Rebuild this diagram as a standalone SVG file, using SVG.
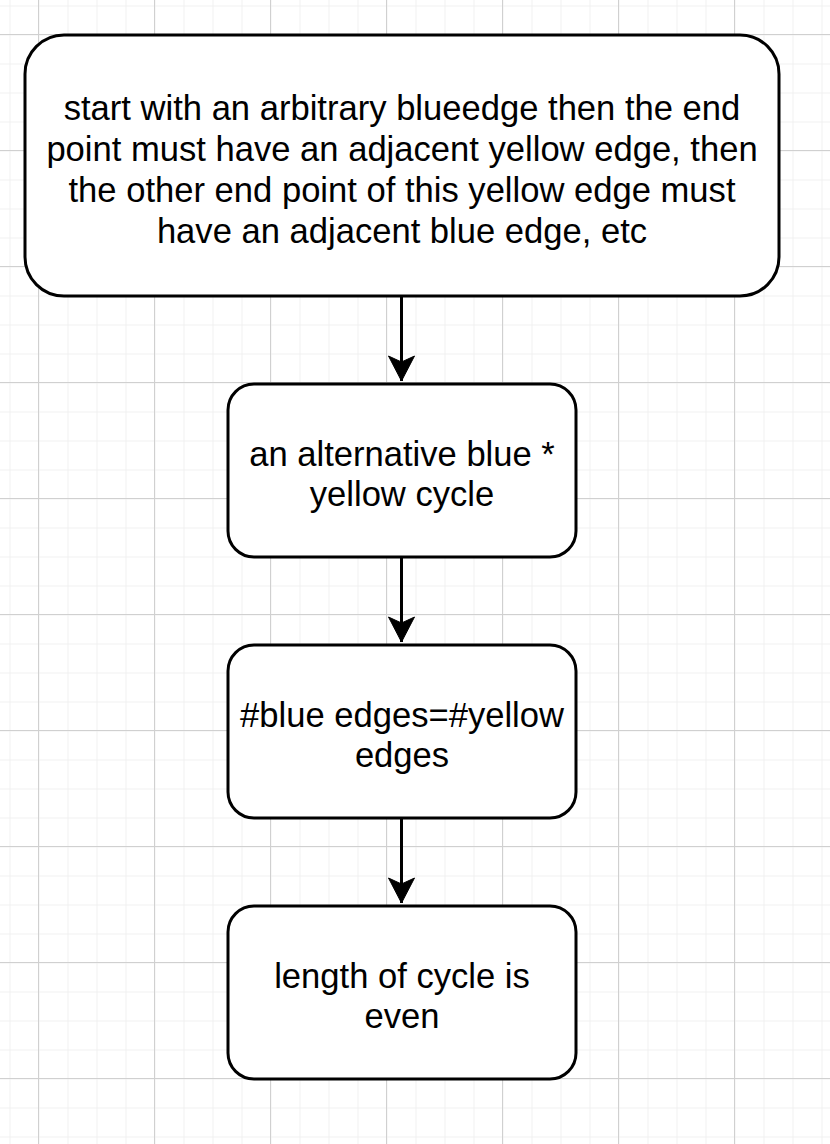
<svg xmlns="http://www.w3.org/2000/svg" width="830" height="1144" viewBox="0 0 830 1144">
<defs>
<pattern id="minor" x="9.5" y="5.5" width="29" height="29" patternUnits="userSpaceOnUse">
<path d="M0 0.5 H29 M0.5 0 V29" fill="none" stroke="#f0f0f0" stroke-width="1"/>
</pattern>
<pattern id="major" x="38" y="34" width="116" height="116" patternUnits="userSpaceOnUse">
<path d="M0 0.5 H116 M0.5 0 V116" fill="none" stroke="#d0d0d0" stroke-width="1"/>
</pattern>
<marker id="arrow" markerWidth="28" markerHeight="28" viewBox="0 0 28 28" refX="26" refY="14" orient="auto" markerUnits="userSpaceOnUse">
<path d="M26 14 L1 1 L7 14 L1 27 Z" fill="#000" stroke="#000" stroke-width="1"/>
</marker>
<style>
.box{fill:#fff;stroke:#000;stroke-width:3}
.lbl{font-family:"Liberation Sans",Arial,sans-serif;font-size:34.6px;fill:#000;text-anchor:middle}
.edge{stroke:#000;stroke-width:3;fill:none}
</style>
</defs>
<rect width="830" height="1144" fill="#fff"/>
<rect width="830" height="1144" fill="url(#minor)"/>
<rect width="830" height="1144" fill="url(#major)"/>
<g id="connectors">
<path class="edge" d="M401.5 296 V381" marker-end="url(#arrow)"/>
<path class="edge" d="M401.5 557 V642" marker-end="url(#arrow)"/>
<path class="edge" d="M401.5 818 V903" marker-end="url(#arrow)"/>
</g>
<g id="node1">
<rect class="box" x="25" y="35" width="754" height="261" rx="39" ry="39"/>
<text class="lbl" x="402" y="120">start with an arbitrary blueedge then the end</text>
<text class="lbl" x="402" y="161">point must have an adjacent yellow edge, then</text>
<text class="lbl" x="402" y="202">the other end point of this yellow edge must</text>
<text class="lbl" x="402" y="243">have an adjacent blue edge, etc</text>
</g>
<g id="node2">
<rect class="box" x="228" y="384" width="348" height="173" rx="26" ry="26"/>
<text class="lbl" x="402" y="466">an alternative blue *</text>
<text class="lbl" x="402" y="506">yellow cycle</text>
</g>
<g id="node3">
<rect class="box" x="228" y="645" width="348" height="173" rx="26" ry="26"/>
<text class="lbl" x="402" y="727">#blue edges=#yellow</text>
<text class="lbl" x="402" y="767">edges</text>
</g>
<g id="node4">
<rect class="box" x="228" y="906" width="348" height="173" rx="26" ry="26"/>
<text class="lbl" x="402" y="988">length of cycle is</text>
<text class="lbl" x="402" y="1028">even</text>
</g>
</svg>
